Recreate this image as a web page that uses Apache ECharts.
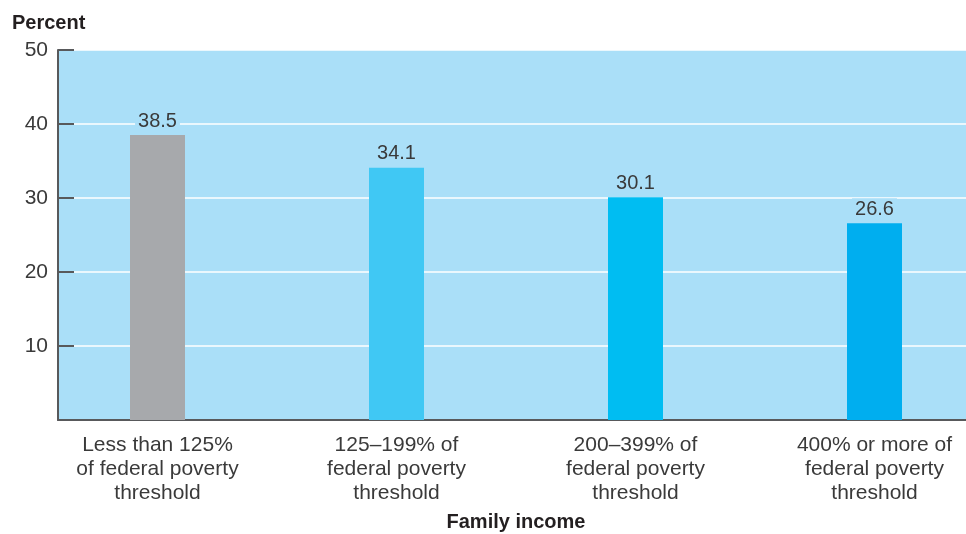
<!DOCTYPE html>
<html>
<head>
<meta charset="utf-8">
<script src="https://cdn.jsdelivr.net/npm/echarts@6/dist/echarts.min.js"></script>
<style>html,body{margin:0;padding:0;background:#fff;}#c{width:966px;height:534px;}</style>
</head>
<body>
<div id="c"></div>
<script>
var categories = [
  "Less than 125%\nof federal poverty\nthreshold",
  "125\u2013199% of\nfederal poverty\nthreshold",
  "200\u2013399% of\nfederal poverty\nthreshold",
  "400% or more of\nfederal poverty\nthreshold"
];
var values = [38.5, 34.1, 30.1, 26.6];
var barColors = ["#a7a9ac", "#40c8f4", "#00bdf2", "#00aeef"];
var yTicks = [0, 10, 20, 30, 40, 50];

var FONT = "Liberation Sans, Arial, Helvetica, sans-serif";
var BG = "#aadff8";
var chart = echarts.init(document.getElementById('c'), null, {renderer: 'canvas'});
chart.setOption({
  animation: false,
  textStyle: {fontFamily: FONT},
  title: {
    text: "Percent", left: 7, top: 8,
    textStyle: {fontFamily: FONT, fontSize: 20, fontWeight: 'bold', color: '#231f20'}
  },
  grid: [
    {left: 58, right: 0, top: 50, bottom: 114, show: true, backgroundColor: BG, borderWidth: 0, outerBoundsMode: 'none', containLabel: false},
    {left: 38, width: 956, top: 50, bottom: 114, show: false, outerBoundsMode: 'none', containLabel: false}
  ],
  xAxis: [
    {gridIndex: 0, type: 'value', min: 0, max: 1,
     axisLine: {show: true, lineStyle: {color: '#58595b', width: 2}},
     axisTick: {show: false}, axisLabel: {show: false}, splitLine: {show: false}},
    {gridIndex: 1, type: 'category', data: categories,
     axisLine: {show: false}, axisTick: {show: false},
     axisLabel: {margin: 13, fontSize: 21, lineHeight: 24, color: '#3a3a3a', fontFamily: FONT, align: 'center'},
     name: "Family income", nameLocation: 'middle', nameGap: 92,
     nameTextStyle: {fontFamily: FONT, fontSize: 20, fontWeight: 'bold', color: '#231f20', verticalAlign: 'top'}}
  ],
  yAxis: [
    {gridIndex: 0, type: 'value', min: yTicks[0], max: yTicks[yTicks.length-1], interval: 10,
     axisLine: {show: true, lineStyle: {color: '#58595b', width: 2}},
     axisTick: {show: true, inside: true, length: 16, lineStyle: {color: '#58595b', width: 2}},
     axisLabel: {margin: 10, fontSize: 21, color: '#3a3a3a', fontFamily: FONT,
       formatter: function(v){ return v === 0 ? '' : String(v); }},
     splitLine: {show: true, lineStyle: {color: '#ffffff', width: 1.5}}},
    {gridIndex: 1, type: 'value', min: yTicks[0], max: yTicks[yTicks.length-1], show: false}
  ],
  series: [{
    type: 'bar', xAxisIndex: 1, yAxisIndex: 1, barWidth: 55,
    data: values.map(function(v, i){ return {value: v, itemStyle: {color: barColors[i]}}; }),
    label: {show: true, position: 'top', distance: 4, fontSize: 20, color: '#3a3a3a', fontFamily: FONT,
      backgroundColor: BG, padding: [1, 3, 0, 3],
      formatter: function(p){ return p.value.toFixed(1); }}
  }]
});
</script>
</body>
</html>
